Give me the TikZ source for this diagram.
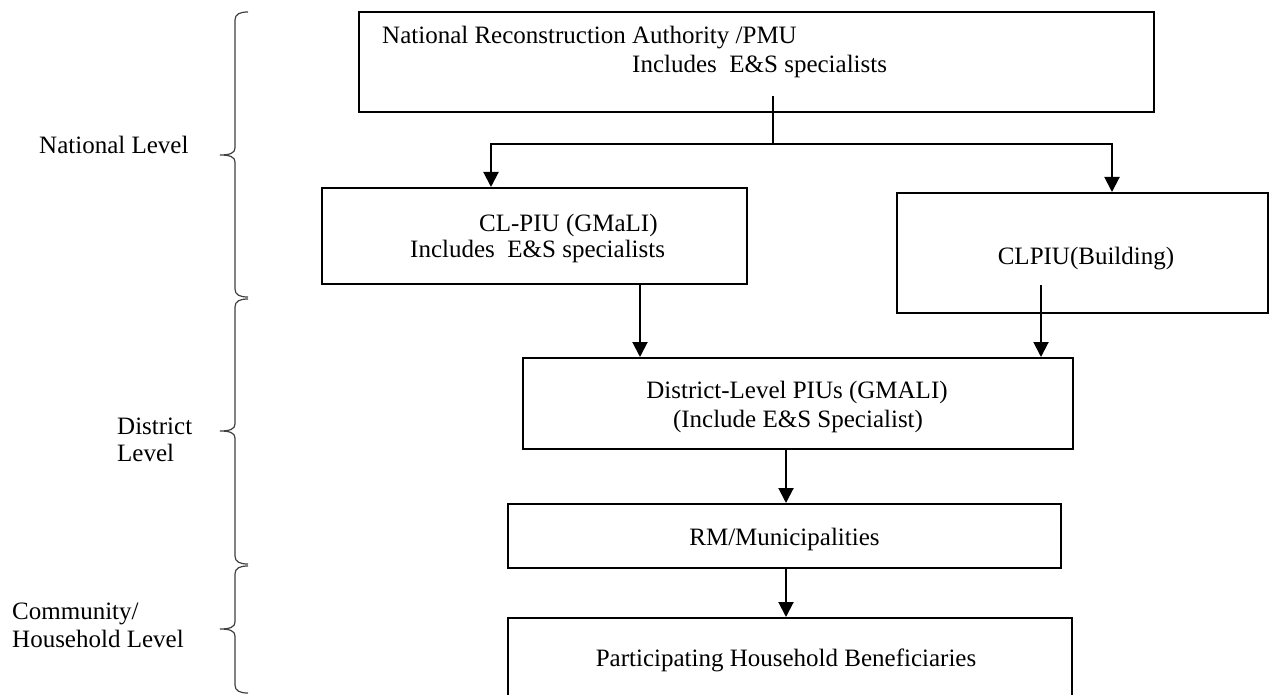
\documentclass[tikz,border=0pt]{standalone}
\usepackage{fontspec}
\setmainfont{Liberation Serif}
\usetikzlibrary{arrows.meta}
\newcommand\mybrace[3]{%
  \draw[bracel] (248,#1) .. controls (240,#1) and (235,{#1+2}) .. (235,{#1+8})
    -- (235,{#2-7}) .. controls (235,{#2-2}) and (230,#2) .. (220,#2)
    .. controls (230,#2) and (235,{#2+2}) .. (235,{#2+7})
    -- (235,{#3-8}) .. controls (235,{#3-2}) and (240,#3) .. (248,#3);}
\begin{document}
\begin{tikzpicture}[x=1pt,y=-1pt,
  box/.style={draw=black,line width=2pt,inner sep=0pt,fill=none},
  txt/.style={inner sep=0pt,font=\fontsize{25}{28}\selectfont},
  arr/.style={line width=2pt,-{Triangle[width=15pt,length=15pt]}},
  conn/.style={line width=2pt},
  bracel/.style={draw=black!75,line width=1.2pt}]
\clip (0,0) rectangle (1269,695);
\fill[white] (0,0) rectangle (1269,695);
% boxes
\node[box,minimum width=795pt,minimum height=100pt] (top) at (756.5,62) {};
\node[box,minimum width=425pt,minimum height=96pt] (clpiu) at (534.5,236) {};
\node[box,minimum width=371pt,minimum height=120pt] (bld) at (1082.5,253) {};
\node[box,minimum width=550pt,minimum height=91pt] (dist) at (798,403.5) {};
\node[box,minimum width=553pt,minimum height=64pt] (rm) at (784.5,536) {};
\node[box,minimum width=564pt,minimum height=120pt] (part) at (790,678) {};
% texts in boxes
\node[txt,anchor=base west] (top1) at (382,44) {National Reconstruction Authority /PMU};
\node[txt,anchor=base west] (top2) at (632,73) {Includes\ \ E\&S specialists};
\node[txt,anchor=base west] (cl1) at (479,232) {CL-PIU (GMaLI)};
\node[txt,anchor=base west] (cl2) at (410,258) {Includes\ \ E\&S specialists};
\node[txt,anchor=base] (bldt) at (1086,265) {CLPIU(Building)};
\node[txt,anchor=base] (dist1) at (797,398) {District-Level PIUs (GMALI)};
\node[txt,anchor=base] (dist2) at (798,427) {(Include E\&S Specialist)};
\node[txt,anchor=base] (rmt) at (784.5,545) {RM/Municipalities};
\node[txt,anchor=base] (partt) at (786,666) {Participating Household Beneficiaries};
% level labels
\node[txt,anchor=base west] (nat) at (39,154) {National Level};
\node[txt,anchor=base west] (dis1) at (117,434) {District};
\node[txt,anchor=base west] (dis2) at (117,461) {Level};
\node[txt,anchor=base west] (com1) at (12,619) {Community/};
\node[txt,anchor=base west] (com2) at (12,647) {Household Level};
% braces
\mybrace{12}{155}{297}
\mybrace{299}{431}{564}
\mybrace{566}{629}{693}
% connectors
\coordinate (tops) at ([xshift=16.5pt,yshift=17pt]top.south);
\coordinate (junc) at ([xshift=16.5pt,yshift=-31pt]top.south);
\draw[conn] (tops) -- (junc);
\draw[arr] (junc) -| ([xshift=170pt]clpiu.north west);
\draw[arr] (junc) -| ([xshift=216pt]bld.north west);
\draw[arr] ([xshift=319pt]clpiu.south west) -- ([xshift=118pt]dist.north west);
\coordinate (blds) at ([xshift=145pt,yshift=29pt]bld.south west);
\draw[arr] (blds) -- (blds |- dist.north);
\coordinate (d2r) at ([xshift=-12pt]dist.south);
\draw[arr] (d2r |- dist.south) -- (d2r |- rm.north);
\draw[arr] (d2r |- rm.south) -- (d2r |- part.north);
\end{tikzpicture}
\end{document}
